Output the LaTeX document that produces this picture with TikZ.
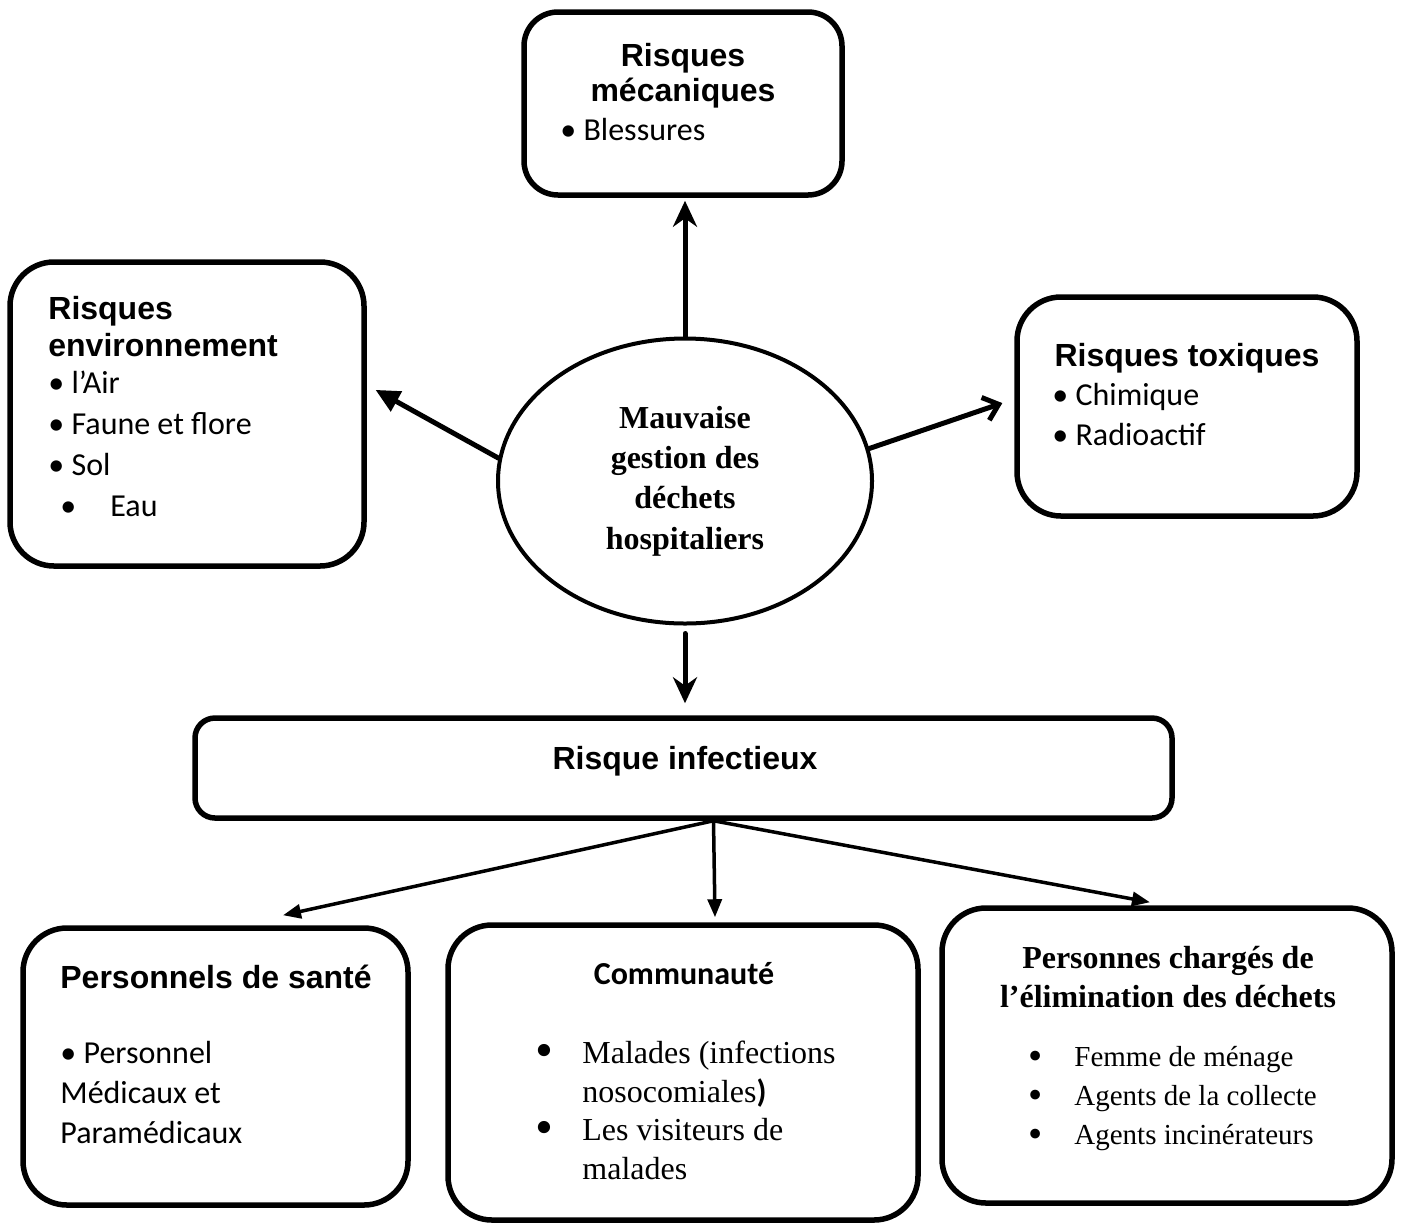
\documentclass[tikz,border=0pt]{standalone}
\usepackage{fontspec}
\setmainfont{Liberation Serif}
\newfontfamily\arialf{Liberation Sans}
\newfontfamily\calibrif{Carlito}
\usetikzlibrary{shapes.geometric,arrows.meta,fit}
\newcommand{\tbul}[1][1.6]{\smash{\raisebox{-0.1em}{\scalebox{#1}{\textbullet}}}}

\begin{document}
\begin{tikzpicture}
		[x=0.5pt,y=-0.5pt,line cap=round,
		%Styles
		risk box/.style={draw,line width=2.75pt,rounded corners=22pt,inner sep=0pt},
		main node/.style={ellipse,draw,line width=2pt,minimum width=187pt,minimum height=142.5pt,
			align=center,inner sep=0pt,font=\bfseries\fontsize{16}{20.2}\selectfont},
		box title/.style={inner sep=0pt,font=\arialf\bfseries\fontsize{16}{#1}\selectfont},
		box title/.default=18.5,
		item list/.style={inner sep=0pt,align=left,anchor=north west},
		big arrow/.style={line width=2.5pt},
		small arrow/.style={line width=1.75pt,-{Triangle[length=9pt,width=7pt]}}
		]
		\useasboundingbox (0,0) rectangle (1402,1222);
		
		%The centre
		\node[main node] (ell) at (685,481) {Mauvaise\\gestion des\\déchets\\hospitaliers};
		
		%Upper boxes
		\node[risk box,rounded corners=17pt,fit={(524,12) (842,195)}] (mec) {};
		\node[box title=17.5,align=center,anchor=north] (mecT) at (683,43) {Risques\\mécaniques};
		\node[item list,font=\calibrif\fontsize{16}{20}\selectfont] (mecL) at (560,118) {\textbullet{} Blessures};
		
		\node[risk box,fit={(10,262) (364,566)}] (env) {};
		\node[box title,align=left,anchor=north west] (envT) at (48,296) {Risques\\environnement};
		\node[item list,font=\calibrif\fontsize{16}{20.5}\selectfont] (envL) at (48,371)
			{\textbullet{} l’Air\\\textbullet{} Faune et flore\\\textbullet{} Sol\\\hspace*{6pt}\textbullet\hspace{17pt}Eau};
		
		\node[risk box,fit={(1017,297) (1357,516)}] (tox) {};
		\node[box title,anchor=north] (toxT) at (1187,343) {Risques toxiques};
		\node[item list,font=\calibrif\fontsize{16}{20}\selectfont] (toxL) at (1052,383)
			{\textbullet{} Chimique\\\textbullet{} Radioactif};
		
		%Middle box
		\node[risk box,rounded corners=10pt,fit={(195,718) (1172,818)}] (inf) {};
		\node[box title] (infT) at (685,761) {Risque infectieux};
		\coordinate (fork) at ([xshift=15pt]inf.south);
		
		%Lower boxes
		\node[risk box,fit={(23,928) (408,1205)}] (per) {};
		\node[box title,anchor=north west] (perT) at (60,965) {Personnels de santé};
		\node[item list,font=\calibrif\fontsize{16}{20}\selectfont] (perL) at (60,1041)
			{\textbullet{} Personnel\\Médicaux et\\Paramédicaux};
		
		\node[risk box,fit={(448,925) (918,1220)}] (com) {};
		\node[inner sep=0pt,anchor=north,font=\calibrif\bfseries\fontsize{16}{18}\selectfont] (comT) at (684,962) {Communauté};
		\node[item list,font=\fontsize{16}{19.25}\selectfont] (comL) at (535,1041)
			{\makebox[23.5pt][l]{\tbul}Malades (infections\\\hspace*{23.5pt}nosocomiales{\calibrif\bfseries )}\\
			 \makebox[23.5pt][l]{\tbul}Les visiteurs de\\\hspace*{23.5pt}malades};
		
		\node[risk box,fit={(942,908) (1392,1203)}] (pch) {};
		\node[inner sep=0pt,anchor=north,align=center,font=\bfseries\fontsize{16}{19.5}\selectfont] (pchT) at (1168,946)
			{Personnes chargés de\\l’élimination des déchets};
		\node[item list,font=\fontsize{14.5}{19.5}\selectfont] (pchL) at (1028,1046)
			{\makebox[23pt][l]{\tbul[1.4]}Femme de ménage\\\makebox[23pt][l]{\tbul[1.4]}Agents de la collecte\\
			 \makebox[23pt][l]{\tbul[1.4]}Agents incinérateurs};
		
		%Arrows
		\draw[big arrow,-{Stealth[length=13pt,width=12pt]},shorten >=1.5pt] (ell.north) -- (ell.north |- mec.south);
		\draw[big arrow,-{Triangle[length=12pt,width=11pt]},shorten >=5pt] (ell.173) -- ([yshift=14.5pt]env.east);
		\draw[big arrow,-{Straight Barb[length=7pt,width=12pt]},shorten >=6.3pt] (ell.10) -- ([yshift=3.75pt]tox.west);
		\draw[big arrow,-{Stealth[length=13pt,width=12pt]},shorten <=4pt,shorten >=6pt] (ell.south) -- (ell.south |- inf.north);
		
		\draw[small arrow] (fork) -- ([xshift=33.75pt,yshift=5pt]per.north);
		\draw[small arrow] (fork) -- ([xshift=16pt,yshift=2.5pt]com.north);
		\draw[small arrow] (fork) -- ([xshift=-8.5pt,yshift=1.5pt]pch.north);
	\end{tikzpicture}
\end{document}
